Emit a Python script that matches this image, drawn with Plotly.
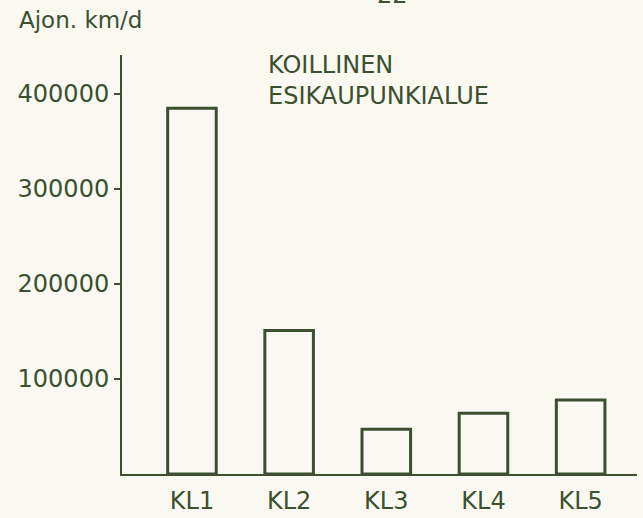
import plotly.graph_objects as go

categories = ["KL1", "KL2", "KL3", "KL4", "KL5"]
values = [385000, 151000, 47000, 64000, 78000]
y_ticks = [100000, 200000, 300000, 400000]
y_ticklabels = ["100000", "200000", "300000", "400000"]

INK = "#3c5030"
BG = "#f9f8f1"
FONT = "DejaVu Sans"

fig = go.Figure()
fig.add_trace(go.Bar(
    x=list(range(len(categories))),
    y=values,
    width=0.5,
    marker=dict(color=BG, line=dict(color=INK, width=3)),
    hoverinfo="skip",
))

fig.update_layout(
    width=643, height=518,
    margin=dict(l=122, r=6, t=55, b=44),
    paper_bgcolor=BG, plot_bgcolor=BG,
    showlegend=False,
    font=dict(family=FONT, color=INK, size=24),
    xaxis=dict(
        range=[-0.72, 4.58],
        tickmode="array",
        tickvals=list(range(len(categories))),
        ticktext=categories,
        showgrid=False, zeroline=False,
        showline=True, linecolor=INK, linewidth=2,
        ticks="", ticklabelstandoff=4, automargin=False,
        tickfont=dict(family=FONT, size=24, color=INK),
    ),
    yaxis=dict(
        range=[0, 441000],
        tickmode="array",
        tickvals=y_ticks,
        ticktext=y_ticklabels,
        showgrid=False, zeroline=False,
        showline=True, linecolor=INK, linewidth=2,
        ticks="outside", ticklen=6, tickwidth=2, tickcolor=INK,
        ticklabelstandoff=0, automargin=False,
        tickfont=dict(family=FONT, size=24, color=INK),
    ),
    annotations=[
        dict(text="Ajon. km/d", xref="paper", yref="paper",
             x=-0.204, y=1.084, xanchor="left", yanchor="middle",
             showarrow=False, font=dict(family=FONT, size=23, color=INK)),
        dict(text="KOILLINEN<br>ESIKAUPUNKIALUE", xref="paper", yref="paper",
             x=0.28, y=0.939, xanchor="left", yanchor="middle", align="left",
             showarrow=False, font=dict(family=FONT, size=24, color=INK)),
        dict(text="22", xref="paper", yref="paper",
             x=0.526, y=1.105, xanchor="center", yanchor="bottom",
             showarrow=False, font=dict(family=FONT, size=24, color=INK)),
    ],
)

fig.write_html("out.html", config={"displayModeBar": False},
               post_script="document.body.style.margin='0';")
